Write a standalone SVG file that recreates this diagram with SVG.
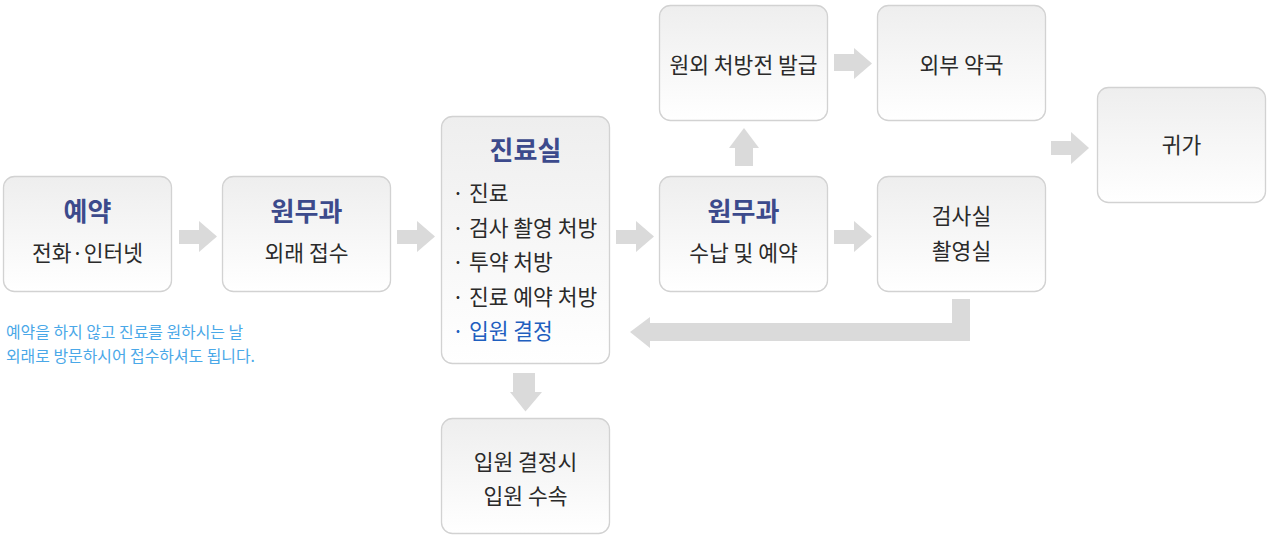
<svg xmlns="http://www.w3.org/2000/svg" width="1269" height="538" viewBox="0 0 1269 538">
<defs>
<linearGradient id="bg" x1="0" y1="0" x2="0" y2="1">
<stop offset="0" stop-color="#eeeeee"/>
<stop offset="1" stop-color="#ffffff"/>
</linearGradient>
<style>
.box{fill:url(#bg);stroke:#d2d2d2;stroke-width:1.3}
.t{font-family:"Noto Sans CJK KR","Noto Sans",sans-serif;text-anchor:middle}
.h{font-size:26px;font-weight:bold;fill:#3c4a8c}
.b{font-size:21.5px;fill:#2a2a2a}
.li{font-family:"Noto Sans CJK KR","Noto Sans",sans-serif;font-size:21.5px;fill:#2a2a2a}
.blue{fill:#1f5fbf}
.note{font-family:"Noto Sans CJK KR","Noto Sans",sans-serif;font-size:15.9px;fill:#4aa8e8}
.arr{fill:#dadada}
</style>
</defs>
<rect width="1269" height="538" fill="#ffffff"/>
<g id="connectors">
<path class="arr" d="M179,230H199V221L217,236.5L199,252V244H179Z"/>
<path class="arr" d="M397,230H417V221L435,236.5L417,252V244H397Z"/>
<path class="arr" d="M616,230H636V221L654,236.5L636,252V244H616Z"/>
<path class="arr" d="M834,230H854V221L872,236.5L854,252V244H834Z"/>
<path class="arr" d="M834,54H854V48L872,63.5L854,79V71H834Z"/>
<path class="arr" d="M1051,141H1071V132L1089,148L1071,164V155H1051Z"/>
<path class="arr" d="M735,166V148H729L744,128L759,148H753V166Z"/>
<path class="arr" d="M513,373V392H510L525.5,411.5L542,392H535V373Z"/>
<path class="arr" d="M970,299V341H650V348L630,332L650,317V323H952V299Z"/>
</g>
<g id="n1">
<rect class="box" x="3.5" y="176.5" width="168" height="115" rx="11"/>
<text class="t h" x="87.5" y="221">예약</text>
<text class="t b" x="87.5" y="261">전화·인터넷</text>
</g>
<text class="note" x="6" y="338">예약을 하지 않고 진료를 원하시는 날</text>
<text class="note" x="6" y="362">외래로 방문하시어 접수하셔도 됩니다.</text>
<g id="n2">
<rect class="box" x="222.5" y="176.5" width="168" height="115" rx="11"/>
<text class="t h" x="306.5" y="221">원무과</text>
<text class="t b" x="306.5" y="261">외래 접수</text>
</g>
<g id="n3">
<rect class="box" x="441.5" y="116.5" width="168" height="247" rx="11"/>
<text class="t h" x="525.5" y="160">진료실</text>
<text class="li" x="452" y="201">· 진료</text>
<text class="li" x="452" y="236">· 검사 촬영 처방</text>
<text class="li" x="452" y="270">· 투약 처방</text>
<text class="li" x="452" y="305">· 진료 예약 처방</text>
<text class="li blue" x="452" y="339">· 입원 결정</text>
</g>
<g id="n4">
<rect class="box" x="441.5" y="418.5" width="168" height="115" rx="11"/>
<text class="t b" x="525.5" y="470">입원 결정시</text>
<text class="t b" x="525.5" y="504">입원 수속</text>
</g>
<g id="n5">
<rect class="box" x="659.5" y="176.5" width="168" height="115" rx="11"/>
<text class="t h" x="743.5" y="221">원무과</text>
<text class="t b" x="743.5" y="261">수납 및 예약</text>
</g>
<g id="n6">
<rect class="box" x="659.5" y="5.5" width="168" height="115" rx="11"/>
<text class="t b" x="743.5" y="73">원외 처방전 발급</text>
</g>
<g id="n7">
<rect class="box" x="877.5" y="5.5" width="168" height="115" rx="11"/>
<text class="t b" x="961.5" y="73">외부 약국</text>
</g>
<g id="n8">
<rect class="box" x="877.5" y="176.5" width="168" height="115" rx="11"/>
<text class="t b" x="961.5" y="224">검사실</text>
<text class="t b" x="961.5" y="259">촬영실</text>
</g>
<g id="n9">
<rect class="box" x="1097.5" y="87.5" width="168" height="115" rx="11"/>
<text class="t b" x="1181.5" y="153">귀가</text>
</g>
</svg>
